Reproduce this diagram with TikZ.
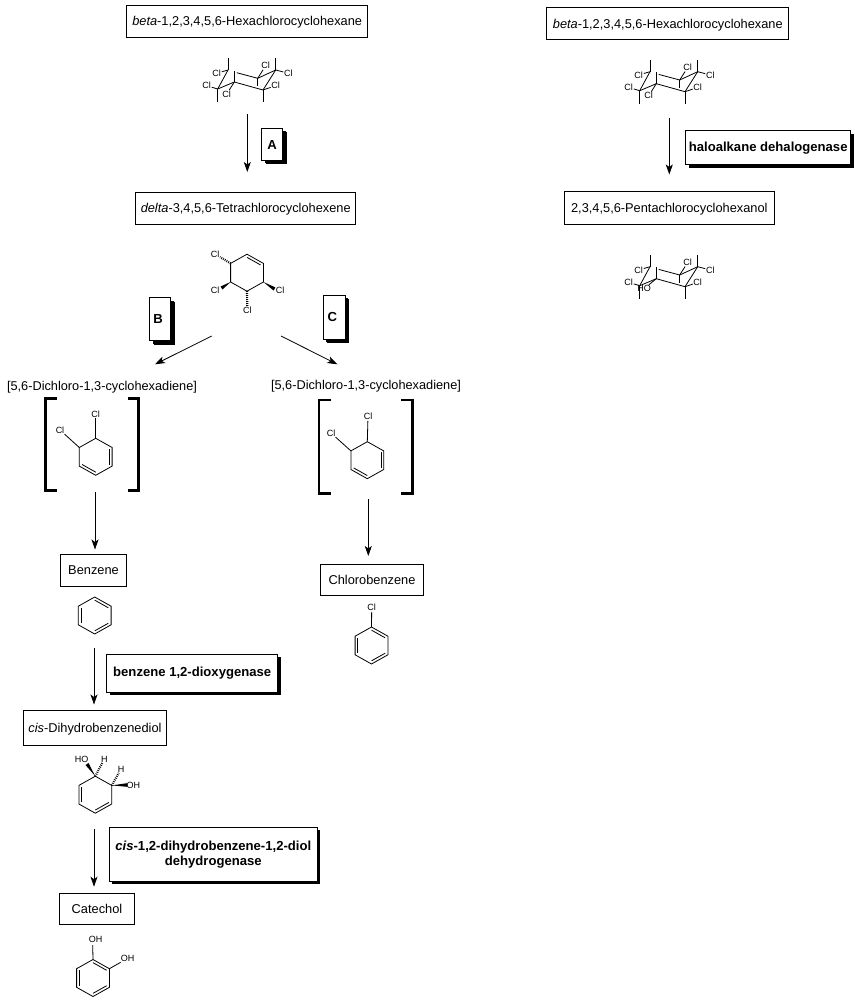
\documentclass[tikz,border=0pt]{standalone}
\usepackage{fontspec}
\setmainfont{Liberation Sans}
\usetikzlibrary{positioning,arrows.meta,calc,shadows}

\tikzset{
  cpd/.style={rectangle,draw,line width=.8pt,inner sep=0pt,text depth=0pt,font=\fontsize{12.8}{14}\selectfont},
  plain/.style={inner sep=0pt,text depth=0pt,font=\fontsize{12.75}{14}\selectfont},
  enzyme/.style={rectangle,draw,fill=white,line width=.8pt,inner sep=0pt,align=center,
    font=\fontsize{13.1}{15}\selectfont\bfseries,
    general shadow={fill=black,shadow xshift=3pt,shadow yshift=-3pt}},
  letterbox/.style={enzyme,general shadow={fill=black,shadow xshift=4pt,shadow yshift=-4pt}},
  atomlab/.style={inner sep=.6pt,font=\fontsize{9}{10}\selectfont},
  bond/.style={line width=.8pt},
  hashbond/.style={line width=2.2pt,dash pattern=on .8pt off 1.2pt},
  rxn/.style={line width=.8pt,-{Stealth[length=10pt,width=7pt,inset=2.5pt]}},
  bracket/.style={line width=2.6pt}
}

\newcommand{\hexring}[4]{
  \begin{scope}[shift={(#2,#3)}]
    \coordinate (#1c) at (0,0);
    \coordinate (#11) at (0,-18.5);
    \coordinate (#12) at (16.4,-9.3);
    \coordinate (#13) at (16.4,9.3);
    \coordinate (#14) at (0,18.5);
    \coordinate (#15) at (-16.4,9.3);
    \coordinate (#16) at (-16.4,-9.3);
    \draw[bond] (#11) -- (#12) -- (#13) -- (#14) -- (#15) -- (#16) -- cycle;
    \foreach \p/\q in {#4}
      \draw[bond] ($(#1\p)!.17!(#1c)$) -- ($(#1\q)!.17!(#1c)$);
  \end{scope}
}

\newcommand{\chairmol}[5]{
  \begin{scope}[shift={(#2,#3)}]
    \coordinate (#1a) at (0,0);
    \coordinate (#1b) at (-10.3,19);
    \coordinate (#1c) at (6.3,12);
    \coordinate (#1d) at (35,20);
    \coordinate (#1e) at (29.7,8.3);
    \coordinate (#1f) at (47.7,0);
    \coordinate (#1ua) at (0,-12);
    \coordinate (#1uf) at (47.7,-12);
    \coordinate (#1db) at (-10.3,32);
    \coordinate (#1dd) at (35,32);
    \coordinate (#1uc) at (6.3,.7);
    \coordinate (#1de) at (29.7,16);
    \coordinate (#1ge) at (8.7,2.7);
    \node[atomlab] (#1l1) at (-11.3,3.3) {Cl};
    \node[atomlab] (#1l2) at (-21.3,15.7) {Cl};
    \node[atomlab] (#1l3) at (#5) {#4};
    \node[atomlab] (#1l4) at (37.7,-4.3) {Cl};
    \node[atomlab] (#1l5) at (60.3,3.3) {Cl};
    \node[atomlab] (#1l6) at (47.7,15.7) {Cl};
    \path[bond]
    (#1a) edge (#1b)
    (#1b) edge (#1c)
    (#1c) edge (#1d)
    (#1d) edge (#1f)
    (#1e) edge (#1f)
    (#1ge) edge (#1e)
    (#1a) edge (#1ua)
    (#1f) edge (#1uf)
    (#1b) edge (#1db)
    (#1d) edge (#1dd)
    (#1c) edge (#1uc)
    (#1e) edge (#1de)
    (#1a) edge (#1l1)
    (#1b) edge (#1l2)
    (#1c) edge (#1l3)
    (#1e) edge (#1l4)
    (#1f) edge (#1l5)
    (#1d) edge (#1l6)
    ;
  \end{scope}
}

\newcommand{\wedgebond}[2]{
  \fill (#1) -- ($(#2)!1.8pt!90:(#1)$) -- ($(#2)!1.8pt!-90:(#1)$) -- cycle;
}

\begin{document}
\begin{tikzpicture}[x=1pt,y=-1pt]
  \useasboundingbox (0,0) rectangle (854,1000);

  \node [cpd,minimum width=241pt,minimum height=32pt] (hexa) at (247.2,21.2) {\textit{beta}-1,2,3,4,5,6-Hexachlorocyclohexane};
  \node [cpd,minimum width=220pt,minimum height=32pt] (delta) at (245.7,208.2) {\textit{delta}-3,4,5,6-Tetrachlorocyclohexene};
  \node [plain] (dichl) at (102,386) {[5,6-Dichloro-1,3-cyclohexadiene]};
  \node [plain] (dichr) at (366,385) {[5,6-Dichloro-1,3-cyclohexadiene]};
  \node [cpd,minimum width=66pt,minimum height=32pt] (benzene) at (93.5,570.5) {Benzene};
  \node [cpd,minimum width=103pt,minimum height=31pt] (chloro) at (372,580) {Chlorobenzene};
  \node [cpd,minimum width=143pt,minimum height=35pt] (cisdiol) at (95,728) {\textit{cis}-Dihydrobenzenediol\hspace{3pt}};
  \node [cpd,minimum width=75pt,minimum height=31pt] (catechol) at (97,908.8) {Catechol\hspace{6pt}};
  \node [cpd,minimum width=242pt,minimum height=32pt] (hexar) at (667.8,23.5) {\textit{beta}-1,2,3,4,5,6-Hexachlorocyclohexane};
  \node [cpd,minimum width=210pt,minimum height=33pt] (penta) at (669.3,207.8) {2,3,4,5,6-Pentachlorocyclohexanol\hspace{4pt}};

  \node [letterbox,minimum width=21pt,minimum height=32pt] (enza) at (272,144.5) {A};
  \node [letterbox,minimum width=21pt,minimum height=43pt] (enzb) at (160,319) {B\hspace{4pt}};
  \node [letterbox,minimum width=22pt,minimum height=44pt] (enzc) at (334.3,317) {C\hspace{4pt}};
  \node [enzyme,minimum width=171pt,minimum height=38pt] (dioxy) at (192.2,673.3) {benzene 1,2-dioxygenase};
  \node [enzyme,minimum width=208pt,minimum height=54pt] (dehyd) at (213.3,854.3) {\textit{cis}-1,2-dihydrobenzene-1,2-diol\\dehydrogenase};
  \node [enzyme,minimum width=165pt,minimum height=34pt] (halo) at (768.2,147.8) {haloalkane dehalogenase};

  \coordinate (s1) at (247.3,114);
  \coordinate (e1) at (247.3,172);
  \coordinate (s2) at (211.7,336);
  \coordinate (e2) at (155,364.3);
  \coordinate (s3) at (281,336);
  \coordinate (e3) at (337.3,364.3);
  \coordinate (s4) at (95,492.3);
  \coordinate (e4) at (95,549.5);
  \coordinate (s5) at (368.3,499);
  \coordinate (e5) at (368.3,556);
  \coordinate (s6) at (94,648.3);
  \coordinate (e6) at (94,704.5);
  \coordinate (s7) at (94,829);
  \coordinate (e7) at (94,886.7);
  \coordinate (s8) at (669.3,118.3);
  \coordinate (e8) at (669.3,174.5);

  \path[rxn]
  (s1) edge (e1)
  (s2) edge (e2)
  (s3) edge (e3)
  (s4) edge (e4)
  (s5) edge (e5)
  (s6) edge (e6)
  (s7) edge (e7)
  (s8) edge (e8)
  ;

  \chairmol{cha}{228}{70}{Cl}{-1.3,24}
  \chairmol{chb}{650}{71.7}{Cl}{-1.3,24}
  \chairmol{chc}{650}{266.7}{HO}{-6,22}

  \hexring{tet}{247}{272.7}{1/2}
  \node[atomlab] (tetl1) at (215,254) {Cl};
  \node[atomlab] (tetl2) at (215,290.7) {Cl};
  \node[atomlab] (tetl3) at (280,290.7) {Cl};
  \node[atomlab] (tetl4) at (247.3,310) {Cl};
  \coordinate (tetw2) at (221.5,288);
  \coordinate (tetw3) at (274.5,289);
  \draw[hashbond] (tet6) -- (tetl1);
  \draw[hashbond] (tet4) -- (tetl4);
  \wedgebond{tet5}{tetw2}
  \wedgebond{tet3}{tetw3}

  \hexring{dcl}{95.7}{456.8}{2/3,4/5}
  \node[atomlab] (dcll1) at (95.7,414.3) {Cl};
  \node[atomlab] (dcll2) at (60,430) {Cl};
  \path[bond] (dcl1) edge (dcll1) (dcl6) edge (dcll2);

  \hexring{dcr}{367.3}{460.2}{2/3,4/5}
  \node[atomlab] (dcrl1) at (368,416.7) {Cl};
  \node[atomlab] (dcrl2) at (331,433) {Cl};
  \path[bond] (dcr1) edge (dcrl1) (dcr6) edge (dcrl2);

  \coordinate (bl1) at (57,398.3);
  \coordinate (bl2) at (45.7,398.3);
  \coordinate (bl3) at (45.7,490.5);
  \coordinate (bl4) at (57,490.5);
  \coordinate (bl5) at (128,398.3);
  \coordinate (bl6) at (138.7,398.3);
  \coordinate (bl7) at (138.7,490.5);
  \coordinate (bl8) at (128,490.5);
  \draw[bracket] (bl1) -- (bl2) -- (bl3) -- (bl4);
  \draw[bracket] (bl5) -- (bl6) -- (bl7) -- (bl8);
  \coordinate (br1) at (330.7,400);
  \coordinate (br2) at (319,400);
  \coordinate (br3) at (319,493.5);
  \coordinate (br4) at (330.7,493.5);
  \coordinate (br5) at (401,400);
  \coordinate (br6) at (412.3,400);
  \coordinate (br7) at (412.3,493.5);
  \coordinate (br8) at (401,493.5);
  \draw[bracket] (br1) -- (br2) -- (br3) -- (br4);
  \draw[bracket] (br5) -- (br6) -- (br7) -- (br8);

  \hexring{ben}{94.7}{615.5}{1/2,3/4,5/6}

  \hexring{clb}{371.5}{645.5}{1/2,3/4,5/6}
  \node[atomlab] (clbl) at (371.7,607.7) {Cl};
  \path[bond] (clb1) edge (clbl);

  \hexring{dio}{95.3}{794.7}{3/4,5/6}
  \node[atomlab] (diol1) at (81.7,759) {HO};
  \node[atomlab] (diol2) at (104.3,759) {H};
  \node[atomlab] (diol3) at (121,769) {H};
  \node[atomlab] (diol4) at (133.3,785) {OH};
  \coordinate (diow1) at (87,764);
  \coordinate (diow4) at (127,785);
  \wedgebond{dio1}{diow1}
  \wedgebond{dio2}{diow4}
  \draw[hashbond] (dio1) -- (diol2);
  \draw[hashbond] (dio2) -- (diol3);

  \hexring{cat}{93}{978}{1/2,3/4,5/6}
  \node[atomlab] (catl1) at (95.7,939) {OH};
  \node[atomlab] (catl2) at (127.7,958.3) {OH};
  \coordinate (catu) at (92.7,945);
  \path[bond] (cat1) edge (catu) (cat2) edge (catl2);
\end{tikzpicture}
\end{document}
